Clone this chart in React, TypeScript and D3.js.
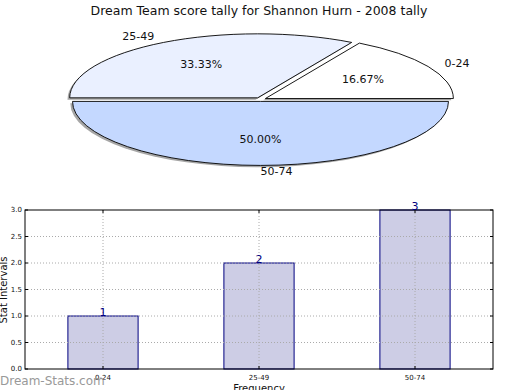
import { useMemo } from 'react'
import * as d3 from 'd3'

const TITLE = 'Dream Team score tally for Shannon Hurn - 2008 tally'
const CATEGORIES = ['0-24', '25-49', '50-74']
const COUNTS = [1, 2, 3]
const PIE_COLORS = ['#ffffff', '#eaf0ff', '#c4d8ff']
const Y_TICKS = [0, 0.5, 1, 1.5, 2, 2.5, 3]

const W = 520
const H = 390
const FONT = 'DejaVu Sans, sans-serif'

// pie geometry (squashed circle)
const CX = 260.5
const CY = 99.5
const RX = 188
const RY = 64
const EXPLODE = 0.03

// bar axes box
const AX = { left: 25, right: 493, top: 210, bottom: 369 }

export default function App() {
  const arcs = useMemo(
    () =>
      d3
        .pie<number>()
        .sort(null)
        .startAngle(Math.PI / 2)
        .endAngle(Math.PI / 2 - 2 * Math.PI)(COUNTS),
    [],
  )
  const arcGen = d3.arc<d3.PieArcDatum<number>>().innerRadius(0).outerRadius(1)
  const total = d3.sum(COUNTS)

  const x = d3.scaleBand<string>().domain(CATEGORIES).range([AX.left, AX.right]).paddingInner(0.55).paddingOuter(0.275)
  const y = d3.scaleLinear().domain([0, 3]).range([AX.bottom, AX.top])

  return (
    <svg width={W} height={H} style={{ position: 'fixed', left: 0, top: 0, background: '#fff' }} fontFamily={FONT}>
      <text x={259} y={15} textAnchor="middle" fontSize={12.5} fill="#111">
        {TITLE}
      </text>

      {arcs.map((a, i) => {
        const mid = (a.startAngle + a.endAngle) / 2
        const ox = EXPLODE * Math.sin(mid)
        const oy = -EXPLODE * Math.cos(mid)
        const px = (r: number) => CX + RX * (ox + r * Math.sin(mid))
        const py = (r: number) => CY + RY * (oy - r * Math.cos(mid))
        const lx = px(1.1)
        const anchor = Math.sin(mid) > -1e-9 ? 'start' : 'end'
        return (
          <g key={i}>
            <g transform={`translate(${CX - 2.2},${CY + 1.8}) scale(${RX},${RY}) translate(${ox},${oy})`}>
              <path d={arcGen(a) ?? ''} fill="#777" fillOpacity={0.65} />
            </g>
            <g transform={`translate(${CX},${CY}) scale(${RX},${RY}) translate(${ox},${oy})`}>
              <path
                d={arcGen(a) ?? ''}
                fill={PIE_COLORS[i]}
                stroke="#000"
                strokeWidth={0.9}
                vectorEffect="non-scaling-stroke"
              />
            </g>
            <text x={lx} y={py(1.1)} textAnchor={anchor} dominantBaseline="central" fontSize={11} fill="#111">
              {CATEGORIES[i]}
            </text>
            <text x={px(0.6)} y={py(0.6)} textAnchor="middle" dominantBaseline="central" fontSize={11} fill="#111">
              {((COUNTS[i] / total) * 100).toFixed(2)}%
            </text>
          </g>
        )
      })}

      {/* bar chart */}
      {CATEGORIES.map((c, i) => (
        <rect
          key={c}
          x={x(c)}
          y={y(COUNTS[i])}
          width={x.bandwidth()}
          height={y(0) - y(COUNTS[i])}
          fill="#cdcde5"
          stroke="#000080"
          strokeWidth={1}
        />
      ))}
      {Y_TICKS.slice(1, -1).map((t) => (
        <line key={t} x1={AX.left} x2={AX.right} y1={y(t)} y2={y(t)} stroke="#aaa" strokeWidth={1} strokeDasharray="1,2" />
      ))}
      {CATEGORIES.map((c) => {
        const cx = (x(c) ?? 0) + x.bandwidth() / 2
        return (
          <g key={c}>
            <line x1={cx} x2={cx} y1={AX.top} y2={AX.bottom} stroke="#aaa" strokeWidth={1} strokeDasharray="1,2" />
            <line x1={cx} x2={cx} y1={AX.bottom} y2={AX.bottom - 3} stroke="#000" />
            <line x1={cx} x2={cx} y1={AX.top} y2={AX.top + 3} stroke="#000" />
            <text x={cx} y={380} textAnchor="middle" fontSize={7} fill="#111">
              {c}
            </text>
          </g>
        )
      })}
      {Y_TICKS.map((t) => (
        <g key={t}>
          <line x1={AX.left} x2={AX.left + 3} y1={y(t)} y2={y(t)} stroke="#000" />
          <line x1={AX.right} x2={AX.right - 3} y1={y(t)} y2={y(t)} stroke="#000" />
          <text x={AX.left - 3} y={y(t)} textAnchor="end" dominantBaseline="central" fontSize={7} fill="#111">
            {t.toFixed(1)}
          </text>
        </g>
      ))}
      <rect x={AX.left} y={AX.top} width={AX.right - AX.left} height={AX.bottom - AX.top} fill="none" stroke="#000" strokeWidth={1} />
      {CATEGORIES.map((c, i) => (
        <text key={c} x={(x(c) ?? 0) + x.bandwidth() / 2} y={y(COUNTS[i]) - 0.5} textAnchor="middle" fontSize={11} fill="#000080">
          {COUNTS[i]}
        </text>
      ))}
      <text x={7} y={290} transform="rotate(-90 7 290)" textAnchor="middle" fontSize={10} fill="#111">
        Stat Intervals
      </text>
      <text x={259} y={392} textAnchor="middle" fontSize={10} fill="#111">
        Frequency
      </text>
      <text x={0} y={385} fontSize={12} fill="#999">
        Dream-Stats.com
      </text>
    </svg>
  )
}
